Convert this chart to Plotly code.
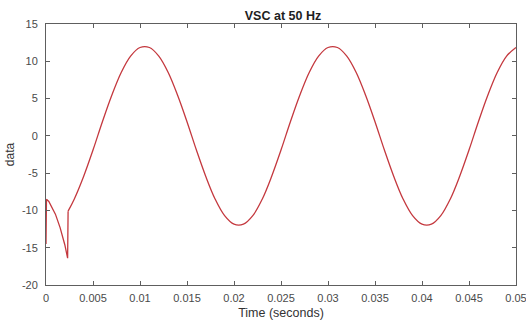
import plotly.graph_objects as go

# Transient at start
t_start = [0.0, 0.00005, 0.0003, 0.0006, 0.001, 0.0015, 0.002, 0.0023, 0.00235]
v_start = [-14.5, -8.5, -8.8, -9.5, -10.5, -12.3, -14.6, -16.4, -10.1]

# Steady 50 Hz oscillation
t_wave = [0.00235, 0.003, 0.004, 0.005, 0.006, 0.007, 0.008, 0.009, 0.010, 0.011,
          0.012, 0.013, 0.014, 0.015, 0.016, 0.017, 0.018, 0.019, 0.020, 0.021,
          0.022, 0.023, 0.024, 0.025, 0.026, 0.027, 0.028, 0.029, 0.030, 0.031,
          0.032, 0.033, 0.034, 0.035, 0.036, 0.037, 0.038, 0.039, 0.040, 0.041,
          0.042, 0.043, 0.044, 0.045, 0.046, 0.047, 0.048, 0.049, 0.050]
v_wave = [-10.1, -8.5, -5.45, -1.9, 1.9, 5.45, 8.5, 10.7, 11.85, 11.85,
          10.7, 8.5, 5.45, 1.9, -1.9, -5.45, -8.5, -10.7, -11.85, -11.85,
          -10.7, -8.5, -5.45, -1.9, 1.9, 5.45, 8.5, 10.7, 11.85, 11.85,
          10.7, 8.5, 5.45, 1.9, -1.9, -5.45, -8.5, -10.7, -11.85, -11.85,
          -10.7, -8.5, -5.45, -1.9, 1.9, 5.45, 8.5, 10.7, 11.85]

x_ticks = [0, 0.005, 0.01, 0.015, 0.02, 0.025, 0.03, 0.035, 0.04, 0.045, 0.05]
x_labels = ["0", "0.005", "0.01", "0.015", "0.02", "0.025", "0.03", "0.035", "0.04", "0.045", "0.05"]
y_ticks = [-20, -15, -10, -5, 0, 5, 10, 15]
y_labels = ["-20", "-15", "-10", "-5", "0", "5", "10", "15"]

red = "#c4383e"
fig = go.Figure()
fig.add_trace(go.Scatter(x=t_start, y=v_start, mode="lines",
                         line=dict(color=red, width=1.3), showlegend=False))
fig.add_trace(go.Scatter(x=t_wave, y=v_wave, mode="lines",
                         line=dict(color=red, width=1.3, shape="spline", smoothing=1.0),
                         showlegend=False))

axis_col = "#5e5e5e"
fig.update_layout(
    width=526, height=322,
    margin=dict(l=46, r=10, t=24, b=37, autoexpand=False),
    paper_bgcolor="white", plot_bgcolor="white",
    font=dict(family="Liberation Sans, Arial, sans-serif", size=11, color="#4a4a4a"),
    title=dict(text="<b>VSC at 50 Hz</b>", x=0.538, xanchor="center",
               y=0.985, yanchor="top", pad=dict(t=6), font=dict(size=12.5, color="#1e1e1e")),
)
fig.update_xaxes(range=[0, 0.05], tickvals=x_ticks, ticktext=x_labels,
                 showline=True, linecolor=axis_col, linewidth=1, mirror="ticks",
                 ticks="inside", ticklen=4, tickcolor=axis_col, showgrid=False, zeroline=False,
                 ticklabeloverflow="allow", ticklabelstandoff=3, automargin=False,
                 title=dict(text="Time (seconds)", standoff=5, font=dict(size=12.5, color="#333333")))
fig.update_yaxes(range=[-20, 15], tickvals=y_ticks, ticktext=y_labels,
                 showline=True, linecolor=axis_col, linewidth=1, mirror="ticks",
                 ticks="inside", ticklen=4, tickcolor=axis_col, showgrid=False, zeroline=False,
                 ticklabelstandoff=5, automargin=False,
                 title=dict(text="data", standoff=4, font=dict(size=12, color="#333333")))

fig.write_html("out.html")
